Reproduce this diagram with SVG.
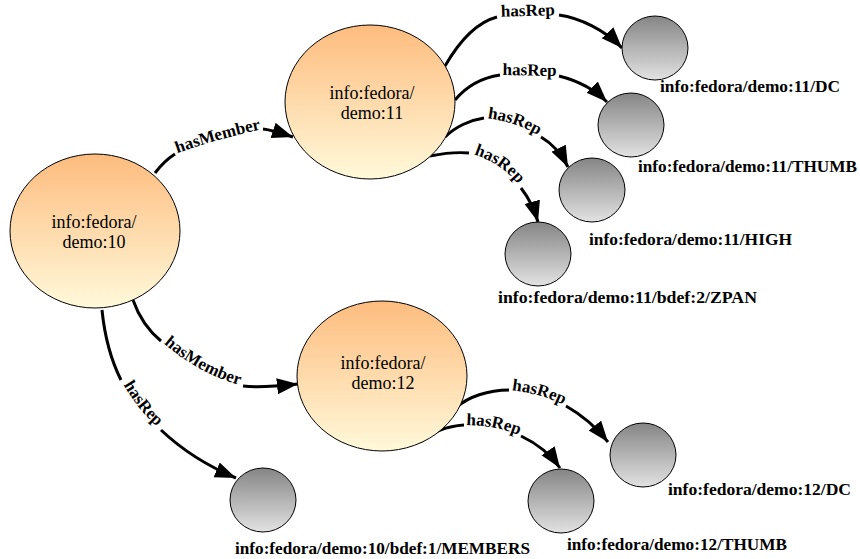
<svg xmlns="http://www.w3.org/2000/svg" xmlns:xlink="http://www.w3.org/1999/xlink" width="860" height="559" viewBox="0 0 860 559">
<style>
.big{stroke:#000;stroke-width:1;fill:url(#og)}
.sm{stroke:#000;stroke-width:1;fill:url(#gg)}
text{font-family:'Liberation Serif','Times New Roman',serif;fill:#000}
.nt{font-size:18px;text-anchor:middle}
.lb{font-size:17px;font-weight:bold}
.e{fill:none;stroke:#000;stroke-width:3}
.ea{fill:none;stroke:#000;stroke-width:3;marker-end:url(#ah)}
.el{font-size:17px;font-weight:bold;text-anchor:middle}
</style>
<defs>
<linearGradient id="og" x1="0" y1="0" x2="0" y2="1">
<stop offset="0" stop-color="#fdbc7e"/>
<stop offset="1" stop-color="#fff9da"/>
</linearGradient>
<linearGradient id="gg" x1="0" y1="0" x2="0" y2="1">
<stop offset="0" stop-color="#858585"/>
<stop offset="1" stop-color="#e2e2e2"/>
</linearGradient>
<marker id="ah" markerUnits="userSpaceOnUse" markerWidth="23" markerHeight="18" refX="21" refY="8" orient="auto">
<path d="M0,0 L21,8 L0,16 Z" fill="#000"/>
</marker>
<path id="pA" d="M175,154 Q220,138 263,129"/>
<path id="pB" d="M161,341 Q198,374 243,386"/>
<path id="pC" d="M121,380 Q137,410 161,430"/>
<path id="pD" d="M497,17 L559,15"/>
<path id="pE" d="M500,75 L559,76"/>
<path id="pF" d="M484,118 Q515,121 541,137"/>
<path id="pG" d="M469,153 Q502,162 521,188"/>
<path id="pH" d="M509,390 Q540,393 566,406"/>
<path id="pI" d="M464,425 Q495,425 521,436"/>
</defs>
<rect width="860" height="559" fill="#fff"/>

<g id="connectors">
<g id="e-10-11">
<path class="e" d="M155,173 Q164,161 175,154"/>
<text class="el"><textPath xlink:href="#pA" href="#pA" startOffset="50%">hasMember</textPath></text>
<path class="ea" d="M263,129 Q272,130 293,137"/>
</g>
<g id="e-10-12">
<path class="e" d="M133,300 C140,320 150,332 161,341"/>
<text class="el"><textPath xlink:href="#pB" href="#pB" startOffset="50%">hasMember</textPath></text>
<path class="ea" d="M243,386 Q260,388 298,384"/>
</g>
<g id="e-10-members">
<path class="e" d="M102,310 C105,340 112,362 121,380"/>
<text class="el"><textPath xlink:href="#pC" href="#pC" startOffset="50%">hasRep</textPath></text>
<path class="ea" d="M161,430 C180,448 205,465 236,478"/>
</g>
<g id="e-11-dc">
<path class="e" d="M445,66 C460,40 478,22 497,17"/>
<text class="el"><textPath xlink:href="#pD" href="#pD" startOffset="50%">hasRep</textPath></text>
<path class="ea" d="M559,15 C580,18 605,30 622,48"/>
</g>
<g id="e-11-thumb">
<path class="e" d="M455,100 C465,88 480,78 500,75"/>
<text class="el"><textPath xlink:href="#pE" href="#pE" startOffset="50%">hasRep</textPath></text>
<path class="ea" d="M559,76 C575,80 593,88 607,102"/>
</g>
<g id="e-11-high">
<path class="e" d="M445,137 C455,127 470,120 484,118"/>
<text class="el"><textPath xlink:href="#pF" href="#pF" startOffset="50%">hasRep</textPath></text>
<path class="ea" d="M541,137 C553,144 562,155 568,167"/>
</g>
<g id="e-11-zpan">
<path class="e" d="M430,156 C445,153 458,152 469,153"/>
<text class="el"><textPath xlink:href="#pG" href="#pG" startOffset="50%">hasRep</textPath></text>
<path class="ea" d="M521,188 C528,197 534,208 538,222"/>
</g>
<g id="e-12-dc">
<path class="e" d="M457,407 C468,397 488,390 509,390"/>
<text class="el"><textPath xlink:href="#pH" href="#pH" startOffset="50%">hasRep</textPath></text>
<path class="ea" d="M566,406 C582,415 596,427 608,442"/>
</g>
<g id="e-12-thumb">
<path class="e" d="M420,442 C432,432 448,426 464,425"/>
<text class="el"><textPath xlink:href="#pI" href="#pI" startOffset="50%">hasRep</textPath></text>
<path class="ea" d="M521,436 C538,444 551,455 560,468"/>
</g>
</g>

<g id="demo10">
<ellipse class="big" cx="95" cy="231" rx="85" ry="77"/>
<text class="nt" x="94" y="228">info:fedora/</text>
<text class="nt" x="94" y="248">demo:10</text>
</g>
<g id="demo11">
<ellipse class="big" cx="370" cy="102" rx="85" ry="77"/>
<text class="nt" x="372" y="99">info:fedora/</text>
<text class="nt" x="372" y="119">demo:11</text>
</g>
<g id="demo12">
<ellipse class="big" cx="382" cy="376" rx="85" ry="75"/>
<text class="nt" x="383" y="369">info:fedora/</text>
<text class="nt" x="383" y="389">demo:12</text>
</g>

<g id="demo11-dc">
<ellipse class="sm" cx="655" cy="48" rx="33" ry="32"/>
<text class="lb" x="660" y="92" textLength="180" lengthAdjust="spacingAndGlyphs">info:fedora/demo:11/DC</text>
</g>
<g id="demo11-thumb">
<ellipse class="sm" cx="631" cy="125" rx="33" ry="32"/>
<text class="lb" x="638" y="172" textLength="219" lengthAdjust="spacingAndGlyphs">info:fedora/demo:11/THUMB</text>
</g>
<g id="demo11-high">
<ellipse class="sm" cx="592" cy="190" rx="33" ry="32"/>
<text class="lb" x="589" y="245" textLength="203" lengthAdjust="spacingAndGlyphs">info:fedora/demo:11/HIGH</text>
</g>
<g id="demo11-zpan">
<ellipse class="sm" cx="538" cy="254" rx="33" ry="32"/>
<text class="lb" x="498" y="303" textLength="259" lengthAdjust="spacingAndGlyphs">info:fedora/demo:11/bdef:2/ZPAN</text>
</g>
<g id="demo10-members">
<ellipse class="sm" cx="263" cy="500" rx="33" ry="32"/>
<text class="lb" x="235" y="554" textLength="295" lengthAdjust="spacingAndGlyphs">info:fedora/demo:10/bdef:1/MEMBERS</text>
</g>
<g id="demo12-dc">
<ellipse class="sm" cx="643" cy="455" rx="33" ry="32"/>
<text class="lb" x="668" y="495" textLength="183" lengthAdjust="spacingAndGlyphs">info:fedora/demo:12/DC</text>
</g>
<g id="demo12-thumb">
<ellipse class="sm" cx="561" cy="501" rx="33" ry="32"/>
<text class="lb" x="567" y="550" textLength="220" lengthAdjust="spacingAndGlyphs">info:fedora/demo:12/THUMB</text>
</g>
</svg>
